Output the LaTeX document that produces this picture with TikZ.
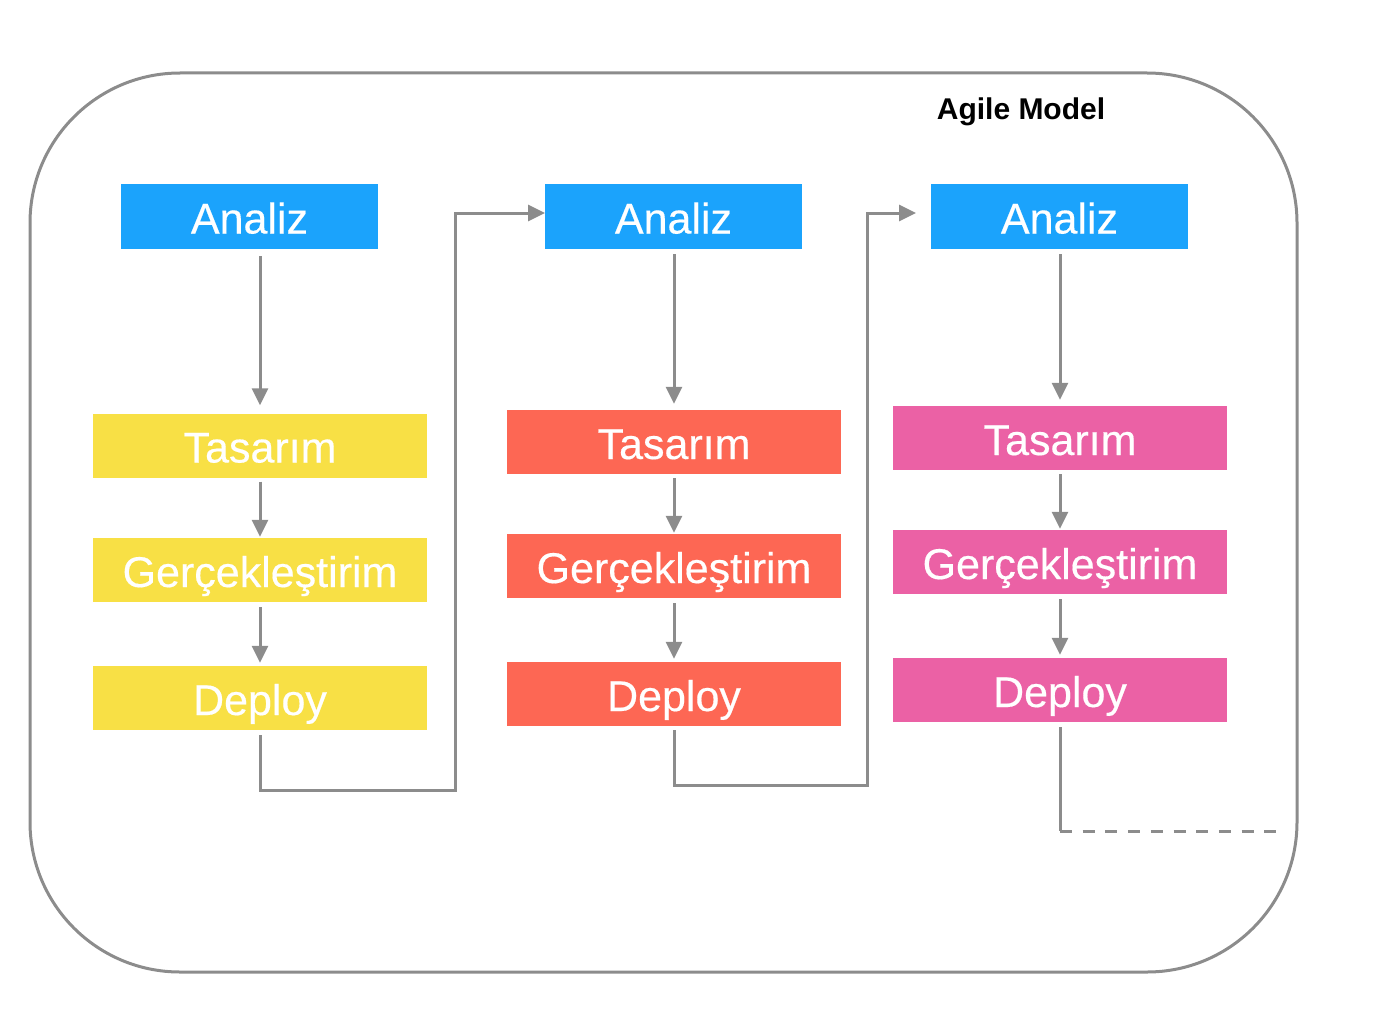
\documentclass[tikz,border=0pt]{standalone}
\usepackage{fontspec}
\setmainfont{Liberation Sans}
\newfontfamily\boxfont[FakeBold=0.4]{Liberation Sans}
\usetikzlibrary{arrows.meta}
\definecolor{cblue}{HTML}{1BA3FC}
\definecolor{cyellow}{HTML}{F8E045}
\definecolor{cred}{HTML}{FD6754}
\definecolor{cpink}{HTML}{EB61A5}
\definecolor{cgray}{HTML}{8C8C8C}
\tikzset{
  box/.style={draw=none,inner sep=0pt,text=white,font=\boxfont\fontsize{43}{50}\selectfont,
    text height=34pt,text depth=0pt,anchor=center},
  topbox/.style={box,fill=cblue,minimum width=257pt,minimum height=65pt},
  stagebox/.style={box,minimum width=334pt,minimum height=64pt},
  conn/.style={draw=cgray,line width=3pt},
  arr/.style={conn,-{Triangle[length=17pt,width=16pt]}},
}
\begin{document}
\begin{tikzpicture}[x=1pt,y=-1pt]
\useasboundingbox (0,0) rectangle (1400,1033);
\draw[cgray,line width=3pt,rounded corners=150pt] (30,73) rectangle (1297,972);
\node[font=\bfseries\fontsize{30}{36}\selectfont,anchor=base,inner sep=0pt] (title) at (1021,119) {Agile Model};

% column 1
\node[topbox] (a1) at (249.5,216.5) {Analiz};
\node[stagebox,fill=cyellow] (t1) at (260,445.5) {Tasarım};
\node[stagebox,fill=cyellow] (g1) at (260,570) {Gerçekleştirim};
\node[stagebox,fill=cyellow] (d1) at (260,698) {Deploy};
% column 2
\node[topbox] (a2) at (673.5,216.5) {Analiz};
\node[stagebox,fill=cred] (t2) at (674,442) {Tasarım};
\node[stagebox,fill=cred] (g2) at (674,566) {Gerçekleştirim};
\node[stagebox,fill=cred] (d2) at (674,694) {Deploy};
% column 3
\node[topbox] (a3) at (1059.5,216.5) {Analiz};
\node[stagebox,fill=cpink] (t3) at (1060,438) {Tasarım};
\node[stagebox,fill=cpink] (g3) at (1060,562) {Gerçekleştirim};
\node[stagebox,fill=cpink] (d3) at (1060,690) {Deploy};

% vertical arrows
\draw[arr,shorten <=7pt,shorten >=8pt] (a1.south -| t1.center) -- (t1.north);
\draw[arr,shorten <=4pt,shorten >=1pt] (t1) -- (g1);
\draw[arr,shorten <=5pt,shorten >=3pt] (g1) -- (d1);
\draw[arr,shorten <=5pt,shorten >=6pt] (a2.south -| t2.center) -- (t2.north);
\draw[arr,shorten <=4pt,shorten >=1pt] (t2) -- (g2);
\draw[arr,shorten <=5pt,shorten >=3pt] (g2) -- (d2);
\draw[arr,shorten <=5pt,shorten >=6pt] (a3.south -| t3.center) -- (t3.north);
\draw[arr,shorten <=4pt,shorten >=1pt] (t3) -- (g3);
\draw[arr,shorten <=5pt,shorten >=3pt] (g3) -- (d3);

% connectors between iterations
\coordinate (k1) at (455,790);
\coordinate (k2) at (867,785);
\coordinate (m2) at (545,213);
\coordinate (m3) at (931,213);
\draw[arr,shorten <=5pt] (d1.south) |- (k1) |- (m2);
\draw[arr,shorten <=4pt,shorten >=15pt] (d2.south) |- (k2) |- (m3);
\coordinate (c3) at (1060,831);
\coordinate (e3) at (1277,831);
\draw[conn,shorten <=5pt] (d3.south) -- (c3);
\draw[conn,dash pattern=on 12pt off 10.7pt] (c3) -- (e3);
\end{tikzpicture}
\end{document}
